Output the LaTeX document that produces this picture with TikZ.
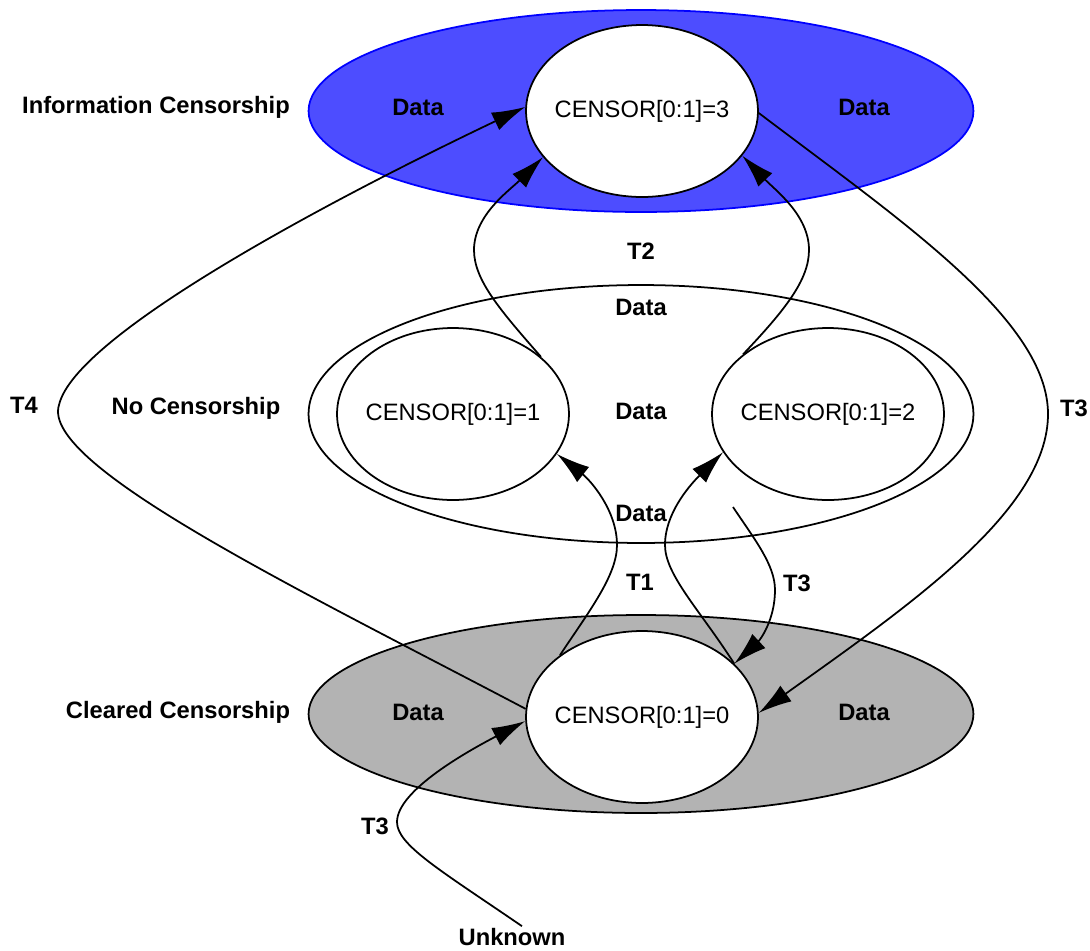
\documentclass[tikz,border=0pt]{standalone}
\usepackage{fontspec}
\setmainfont{Liberation Sans}
\usepackage{tikz}
\usetikzlibrary{arrows.meta,shapes.geometric}
\definecolor{zoneblue}{RGB}{77,77,255}
\definecolor{zonegray}{RGB}{179,179,179}

\begin{document}
\begin{tikzpicture}[x=0.02cm,y=-0.02cm,>={Latex[length=19pt,width=11pt]},
  zone/.style={draw,ellipse,minimum width=13.3cm,line width=1pt},
  state/.style={draw,ellipse,fill=white,minimum width=4.64cm,minimum height=3.44cm,inner xsep=-15pt,inner ysep=0pt,line width=1pt,font=\fontsize{13.5}{16}\selectfont},
  lbl/.style={font=\fontsize{13.5}{16}\selectfont\bfseries},
  trans/.style={->,line width=1pt}]
\useasboundingbox (0,0) rectangle (1090,951);
\node[zone,minimum height=4.04cm,fill=zoneblue,draw=blue] (infozone) at (641,111) {};
\node[zone,minimum height=5.16cm] (nozone) at (641,414) {};
\node[zone,minimum height=3.96cm,fill=zonegray] (clearzone) at (641,714) {};
\node[state] (c3) at (642,111) {CENSOR[0:1]=3};
\node[state] (c1) at (453,414) {CENSOR[0:1]=1};
\node[state] (c2) at (828,414) {CENSOR[0:1]=2};
\node[state] (c0) at (642,717) {CENSOR[0:1]=0};
\node[lbl] (infoname) at (156,107) {Information Censorship};
\node[lbl] (noname) at (196,408) {No Censorship};
\node[lbl] (clearname) at (178,712) {Cleared Censorship};
\node[lbl] (d3l) at (418,107) {Data};
\node[lbl] (d3r) at (864,107) {Data};
\node[lbl] (dtop) at (641,307) {Data};
\node[lbl] (dmid) at (641,411) {Data};
\node[lbl] (dbot) at (641,513) {Data};
\node[lbl] (d0l) at (418,712) {Data};
\node[lbl] (d0r) at (864,712) {Data};
\node[lbl] (t2) at (641,251) {T2};
\node[lbl] (t4) at (24,405) {T4};
\node[lbl] (t3r) at (1074,408) {T3};
\node[lbl] (t1) at (640,582) {T1};
\node[lbl] (t3m) at (797,583) {T3};
\node[lbl] (t3b) at (375,826) {T3};
\node[lbl,inner sep=1pt] (unknown) at (512,937) {Unknown};
\coordinate (t3tail) at (733,507);
\draw[trans] (c0.176) .. controls (300,590) and (40,465) .. (59,405) .. controls (75,335) and (330,200) .. (c3.178);
\draw[trans] (c3.359) .. controls (900,220) and (1048,320) .. (1048,414) .. controls (1048,510) and (910,605) .. (c0.2);
\draw[trans] (c1.33) .. controls (500,310) and (474,280) .. (474,250) .. controls (474,215) and (510,190) .. (c3.205);
\draw[trans] (c2.145) .. controls (785,310) and (809,280) .. (809,250) .. controls (809,215) and (775,190) .. (c3.336);
\draw[trans] (c0.143) .. controls (590,610) and (617,575) .. (617,545) .. controls (617,510) and (590,480) .. (c1.339);
\draw[trans] (c0.30) .. controls (700,610) and (665,575) .. (665,545) .. controls (665,510) and (695,480) .. (c2.200);
\draw[trans] (t3tail) .. controls (755,540) and (775,565) .. (775,590) .. controls (775,620) and (760,640) .. (c0.30);
\draw[trans] ([xshift=0.2cm]unknown.north) .. controls (440,870) and (397,845) .. (397,822) .. controls (397,790) and (470,750) .. (c0.182);
\end{tikzpicture}
\end{document}
